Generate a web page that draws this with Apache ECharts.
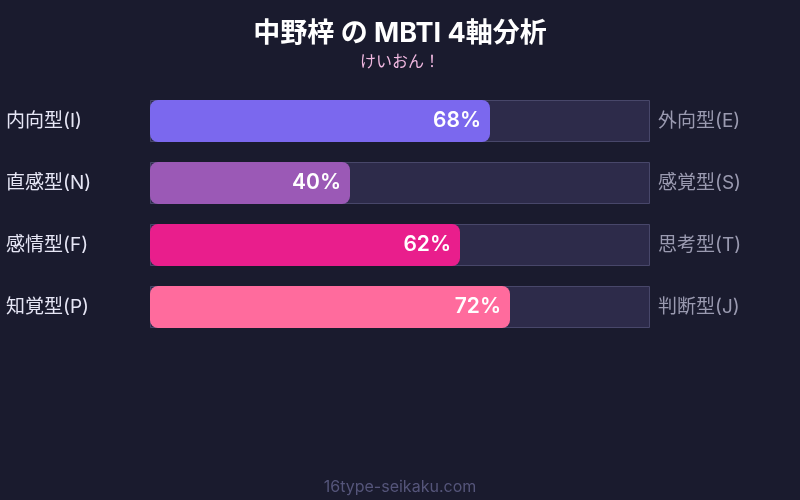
<!DOCTYPE html>
<html><head><meta charset="utf-8">
<script src="https://cdn.jsdelivr.net/npm/echarts@6/dist/echarts.min.js"></script>
<style>html,body{margin:0;padding:0;background:#1a1b2e;}#c{width:800px;height:500px;}</style>
</head><body><div id="c"></div>
<script>
const leftLabels = ['内向型(I)', '直感型(N)', '感情型(F)', '知覚型(P)'];
const rightLabels = ['外向型(E)', '感覚型(S)', '思考型(T)', '判断型(J)'];
const values = [68, 40, 62, 72];
const colors = ['#7b68ee', '#9b59b6', '#e91e8c', '#ff6b9d'];
const fullScale = [100, 100, 100, 100];

const chart = echarts.init(document.getElementById('c'));
const font = 'Inter, "Noto Sans CJK JP", sans-serif';
chart.setOption({
  backgroundColor: '#1a1b2e',
  textStyle: { fontFamily: font },
  title: [{
    text: '中野梓 の MBTI 4軸分析',
    subtext: 'けいおん！',
    left: 'center', top: 15,
    itemGap: 7,
    textStyle: { color: '#ffffff', fontSize: 27, fontWeight: 'bold', fontFamily: font },
    subtextStyle: { color: '#f0b8e0', fontSize: 16, fontFamily: font }
  }, {
    text: '16type-seikaku.com',
    left: 'center', top: 474,
    textStyle: { color: '#55557a', fontSize: 16, fontWeight: 'normal', fontFamily: font }
  }],
  grid: { left: 150, right: 150, top: 90, bottom: 162 },
  xAxis: { type: 'value', min: 0, max: 100, show: false },
  yAxis: [{
    type: 'category', data: leftLabels, inverse: true,
    axisLine: { show: false }, axisTick: { show: false },
    axisLabel: { color: '#e6e6f5', fontSize: 19, align: 'left', margin: 144, fontFamily: font }
  }, {
    type: 'category', data: rightLabels, inverse: true, position: 'right',
    axisLine: { show: false }, axisTick: { show: false },
    axisLabel: { color: '#9a9ab0', fontSize: 19, align: 'left', margin: 8, fontFamily: font }
  }],
  series: [{
    type: 'bar', data: fullScale, barWidth: 42, silent: true,
    itemStyle: { color: '#2d2b4a', borderColor: '#48476a', borderWidth: 1 },
    z: 1
  }, {
    type: 'bar', data: values.map((v, i) => ({ value: v, itemStyle: { color: colors[i] } })),
    barWidth: 42, barGap: '-100%', z: 2,
    itemStyle: { borderRadius: 8 },
    label: {
      show: true, position: 'insideRight', distance: 9,
      formatter: '{c}%', color: '#ffffff', fontSize: 21, fontWeight: 600, fontFamily: font
    }
  }]
});
</script></body></html>
